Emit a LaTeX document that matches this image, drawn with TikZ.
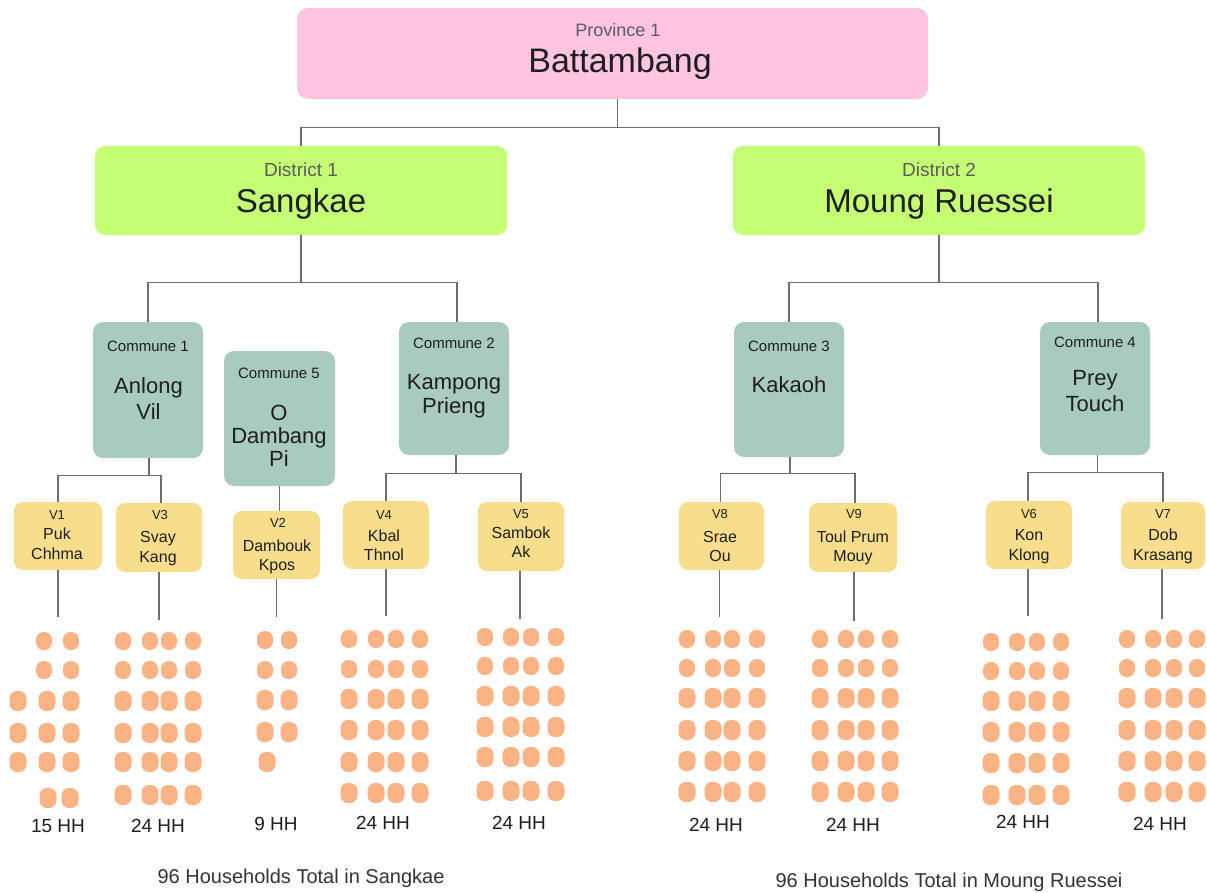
\documentclass[tikz,border=0pt]{standalone}
\usepackage{fontspec}
\setmainfont{Liberation Sans}
\definecolor{provpink}{HTML}{FFC5E0}
\definecolor{distgreen}{HTML}{C5FD74}
\definecolor{commteal}{HTML}{A9CBBD}
\definecolor{villyellow}{HTML}{F8DD8C}
\definecolor{hhorange}{HTML}{F9B385}
\definecolor{linegrey}{HTML}{6E6E6E}
\definecolor{subgrey}{HTML}{5C5C5C}
\definecolor{txtdark}{HTML}{1E1E1E}
\newcommand\szSub{\fontsize{18}{22}\selectfont}
\newcommand\szBig{\fontsize{34}{40}\selectfont}
\newcommand\szDist{\fontsize{19}{23}\selectfont}
\newcommand\szDistName{\fontsize{33}{39}\selectfont}
\newcommand\szComm{\fontsize{15}{18}\selectfont}
\newcommand\szCommName{\fontsize{22}{26}\selectfont}
\newcommand\szVid{\fontsize{13}{16}\selectfont}
\newcommand\szVname{\fontsize{16}{19}\selectfont}
\newcommand\szHH{\fontsize{19}{23}\selectfont}
\newcommand\szTotal{\fontsize{20}{24}\selectfont}
\newcommand\hhS[2]{\fill[hhfill] ({#1-8},{#2-9}) rectangle ({#1+8},{#2+9});}
\newcommand\hhL[2]{\fill[hhfill] ({#1-8.5},{#2-10}) rectangle ({#1+8.5},{#2+10});}
\newcommand\hhGrid[3]{\foreach \hx in {#1}{\foreach \hy in {#2}{\hhS{\hx}{\hy}}\foreach \hy in {#3}{\hhL{\hx}{\hy}}}}
\begin{document}
\begin{tikzpicture}[x=1pt,y=-1pt,
  provbox/.style={fill=provpink,rounded corners=11pt,inner sep=0pt},
  distbox/.style={fill=distgreen,rounded corners=10pt,inner sep=0pt},
  commbox/.style={fill=commteal,rounded corners=10pt,inner sep=0pt},
  villbox/.style={fill=villyellow,rounded corners=9pt,inner sep=0pt},
  hhfill/.style={fill=hhorange,rounded corners=7.5pt},
  lbl/.style={anchor=base,inner sep=0pt,text=txtdark},
  conn/.style={draw=linegrey,line width=1.2pt}]
\useasboundingbox (0,0) rectangle (1207,893);
% boxes
\node[provbox,minimum width=631pt,minimum height=91pt] (prov) at (612.5,53.5) {};
\node[distbox,minimum width=412pt,minimum height=89pt] (d1) at (301,190.5) {};
\node[distbox,minimum width=412pt,minimum height=89pt] (d2) at (939,190.5) {};
\node[commbox,minimum width=110pt,minimum height=136pt] (c1) at (148,390) {};
\node[commbox,minimum width=111pt,minimum height=135pt] (c5) at (279.5,418.5) {};
\node[commbox,minimum width=110pt,minimum height=133pt] (c2) at (454,388.5) {};
\node[commbox,minimum width=110pt,minimum height=135pt] (c3) at (789,389.5) {};
\node[commbox,minimum width=110pt,minimum height=133pt] (c4) at (1095,388.5) {};
\node[villbox,minimum width=88pt,minimum height=68pt] (v1) at (58,536) {};
\node[villbox,minimum width=86pt,minimum height=69pt] (v3) at (159,537.5) {};
\node[villbox,minimum width=87pt,minimum height=68pt] (v2) at (276.5,545) {};
\node[villbox,minimum width=86pt,minimum height=68pt] (v4) at (386,535) {};
\node[villbox,minimum width=86pt,minimum height=69pt] (v5) at (521,536.5) {};
\node[villbox,minimum width=85pt,minimum height=68pt] (v8) at (721.5,536) {};
\node[villbox,minimum width=88pt,minimum height=69pt] (v9) at (853,537.5) {};
\node[villbox,minimum width=86pt,minimum height=68pt] (v6) at (1029,535) {};
\node[villbox,minimum width=84pt,minimum height=67pt] (v7) at (1163,535.5) {};
% connectors
\draw[conn] ([xshift=5pt]prov.south) -- ++(0,28) coordinate (pj);
\draw[conn] (pj) -| (d1.north);
\draw[conn] (pj) -| (d2.north);
\draw[conn] (d1.south) -- ++(0,47) coordinate (d1j);
\draw[conn] (d1j) -| (c1.north);
\draw[conn] (d1j) -| ([xshift=3pt]c2.north);
\draw[conn] (d2.south) -- ++(0,47) coordinate (d2j);
\draw[conn] (d2j) -| (c3.north);
\draw[conn] (d2j) -| ([xshift=3pt]c4.north);
\draw[conn] ([xshift=1pt]c1.south) -- ++(0,17) coordinate (c1j);
\draw[conn] (c1j) -| (v1.north);
\draw[conn] (c1j) -| ([xshift=2pt]v3.north);
\draw[conn] (c5.south) -- (c5.south |- v2.north);
\draw[conn] ([xshift=2pt]c2.south) -- ++(0,18) coordinate (c2j);
\draw[conn] (c2j) -| (v4.north);
\draw[conn] (c2j) -| (v5.north);
\draw[conn] ([xshift=1pt]c3.south) -- ++(0,16) coordinate (c3j);
\draw[conn] (c3j) -| ([xshift=-1pt]v8.north);
\draw[conn] (c3j) -| ([xshift=2pt]v9.north);
\draw[conn] ([xshift=2.5pt]c4.south) -- ++(0,17) coordinate (c4j);
\draw[conn] (c4j) -| ([xshift=-1pt]v6.north);
\draw[conn] (c4j) -| (v7.north);
\draw[conn] (v1.south) -- ++(0,47) coordinate (v1e);
\draw[conn] (v3.south) -- ++(0,48) coordinate (v3e);
\draw[conn] (v2.south) -- ++(0,38) coordinate (v2e);
\draw[conn] (v4.south) -- ++(0,47) coordinate (v4e);
\draw[conn] ([xshift=-1pt]v5.south) -- ++(0,48) coordinate (v5e);
\draw[conn] ([xshift=-2pt]v8.south) -- ++(0,47) coordinate (v8e);
\draw[conn] ([xshift=1pt]v9.south) -- ++(0,49) coordinate (v9e);
\draw[conn] ([xshift=-1pt]v6.south) -- ++(0,47) coordinate (v6e);
\draw[conn] ([xshift=-1pt]v7.south) -- ++(0,50) coordinate (v7e);
% labels
\node[lbl,font=\szSub,text=subgrey] (provsub) at (618,37) {Province 1};
\node[lbl,font=\szBig] (provname) at (620,73) {Battambang};
\node[lbl,font=\szDist,text=subgrey] (d1sub) at (301,177) {District 1};
\node[lbl,font=\szDistName] (d1name) at (301,213) {Sangkae};
\node[lbl,font=\szDist,text=subgrey] (d2sub) at (939,177) {District 2};
\node[lbl,font=\szDistName] (d2name) at (939,213) {Moung Ruessei};
\node[lbl,font=\szComm] (c1sub) at (148,351) {Commune 1};
\node[lbl,font=\szCommName] (c1a) at (148.5,393) {Anlong};
\node[lbl,font=\szCommName] (c1b) at (148.5,419) {Vil};
\node[lbl,font=\szComm] (c5sub) at (279,378) {Commune 5};
\node[lbl,font=\szCommName] (c5a) at (279,420) {O};
\node[lbl,font=\szCommName] (c5b) at (279,443) {Dambang};
\node[lbl,font=\szCommName] (c5c) at (279,466) {Pi};
\node[lbl,font=\szComm] (c2sub) at (454,348) {Commune 2};
\node[lbl,font=\szCommName] (c2a) at (454,389) {Kampong};
\node[lbl,font=\szCommName] (c2b) at (454,413) {Prieng};
\node[lbl,font=\szComm] (c3sub) at (789,351) {Commune 3};
\node[lbl,font=\szCommName] (c3a) at (789,392) {Kakaoh};
\node[lbl,font=\szComm] (c4sub) at (1095,347) {Commune 4};
\node[lbl,font=\szCommName] (c4a) at (1095,385) {Prey};
\node[lbl,font=\szCommName] (c4b) at (1095,411) {Touch};
\node[lbl,font=\szVid] (v1i) at (57,519) {V1};
\node[lbl,font=\szVname] (v1a) at (57,539) {Puk};
\node[lbl,font=\szVname] (v1b) at (57,559) {Chhma};
\node[lbl,font=\szVid] (v3i) at (160,519) {V3};
\node[lbl,font=\szVname] (v3a) at (158,542) {Svay};
\node[lbl,font=\szVname] (v3b) at (158,562) {Kang};
\node[lbl,font=\szVid] (v2i) at (278,527) {V2};
\node[lbl,font=\szVname] (v2a) at (277,551) {Dambouk};
\node[lbl,font=\szVname] (v2b) at (277,570) {Kpos};
\node[lbl,font=\szVid] (v4i) at (384,519) {V4};
\node[lbl,font=\szVname] (v4a) at (384,541) {Kbal};
\node[lbl,font=\szVname] (v4b) at (384,560) {Thnol};
\node[lbl,font=\szVid] (v5i) at (521,518) {V5};
\node[lbl,font=\szVname] (v5a) at (521,538) {Sambok};
\node[lbl,font=\szVname] (v5b) at (521,557) {Ak};
\node[lbl,font=\szVid] (v8i) at (720,518) {V8};
\node[lbl,font=\szVname] (v8a) at (720,542) {Srae};
\node[lbl,font=\szVname] (v8b) at (720,561) {Ou};
\node[lbl,font=\szVid] (v9i) at (854,518) {V9};
\node[lbl,font=\szVname] (v9a) at (853,542) {Toul Prum};
\node[lbl,font=\szVname] (v9b) at (853,561) {Mouy};
\node[lbl,font=\szVid] (v6i) at (1029,518) {V6};
\node[lbl,font=\szVname] (v6a) at (1029,540) {Kon};
\node[lbl,font=\szVname] (v6b) at (1029,560) {Klong};
\node[lbl,font=\szVid] (v7i) at (1163,518) {V7};
\node[lbl,font=\szVname] (v7a) at (1163,540) {Dob};
\node[lbl,font=\szVname] (v7b) at (1163,560) {Krasang};
% household dots
\hhGrid{44,71}{641,670}{}
\hhGrid{18,47,71}{}{701,733,762}
\hhL{48}{798}\hhL{70}{798}
\hhGrid{123,150,169,193}{641,670}{701,733,762,795}
\hhGrid{265,289}{640,670}{700,732}
\hhL{267}{762}
\hhGrid{349,376,396,420}{639,669}{699,730,762,793}
\hhGrid{485,511,531,556}{637,666}{696,727,757,791}
\hhGrid{687,713,732,757}{639,668}{698,730,761,792}
\hhGrid{820,846,866,890}{639,668}{698,730,761,792}
\hhGrid{991,1017,1037,1061}{642,671}{701,732,763,795}
\hhGrid{1127,1153,1174,1197}{639,668}{698,730,761,792}
% HH labels
\node[lbl,font=\szHH] (hh1) at (58,832) {15 HH};
\node[lbl,font=\szHH] (hh3) at (158,832) {24 HH};
\node[lbl,font=\szHH] (hh2) at (276,830) {9 HH};
\node[lbl,font=\szHH] (hh4) at (383,829) {24 HH};
\node[lbl,font=\szHH] (hh5) at (519,829) {24 HH};
\node[lbl,font=\szHH] (hh8) at (716,831) {24 HH};
\node[lbl,font=\szHH] (hh9) at (853,831) {24 HH};
\node[lbl,font=\szHH] (hh6) at (1023,828) {24 HH};
\node[lbl,font=\szHH] (hh7) at (1160,830) {24 HH};
\node[lbl,font=\szTotal,text=black!80] (tot1) at (301,883) {96 Households Total in Sangkae};
\node[lbl,font=\szTotal,text=black!80] (tot2) at (949,887) {96 Households Total in Moung Ruessei};
\end{tikzpicture}
\end{document}
